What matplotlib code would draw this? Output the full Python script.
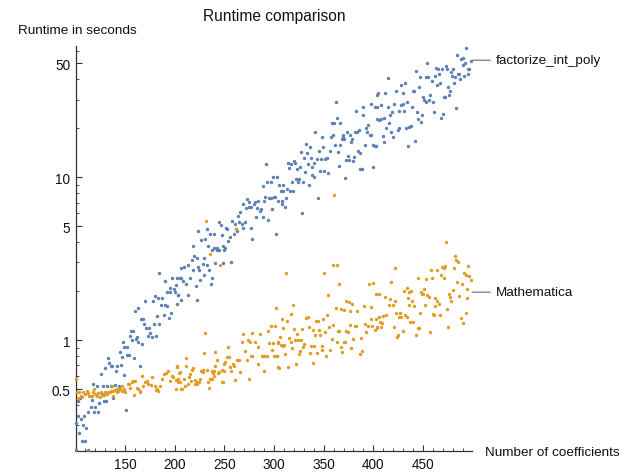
import matplotlib
matplotlib.use("Agg")
import matplotlib.pyplot as plt
from matplotlib.ticker import FixedLocator, NullFormatter, MultipleLocator

plt.rcParams['font.family'] = ['Liberation Sans', 'DejaVu Sans']

# ---------------- data ----------------
title = "Runtime comparison"
ylabel = "Runtime in seconds"
xlabel = "Number of coefficients"
series_names = ["factorize_int_poly", "Mathematica"]

fip_pts = [
    (101,0.31),(104,0.27),(107,0.24),(110,0.24),(108,0.30),(111,0.29),(103,0.34),(109,0.34),(113,0.36),(116,0.39),
    (119,0.36),(123,0.36),(103,0.42),(105,0.44),(117,0.43),(124,0.41),(129,0.42),(131,0.42),(138,0.44),(151,0.37),
    (118,0.54),(122,0.52),(128,0.52),(132,0.52),(136,0.52),(140,0.53),(144,0.52),(149,0.61),(126,0.62),(130,0.67),
    (133,0.78),(134,0.72),(136,0.69),(137,0.69),(142,0.69),(141,0.65),(146,0.70),(145,0.84),(147,0.79),(149,0.91),
    (152,0.91),(152,0.81),(154,0.81),(159,0.78),(148,0.97),(157,1.0),(155,1.06),(161,1.01),(163,0.97),(165,0.69),
    (167,0.95),(156,1.14),(158,1.14),(162,1.04),(160,1.5),(163,1.57),(166,1.35),(168,1.35),(170,1.73),(171,1.18),
    (174,1.18),(175,1.1),(173,1.06),(177,1.04),(181,1.06),(169,1.25),(179,1.25),(184,1.25),(182,1.4),(189,1.42),
    (194,1.36),(180,1.86),(183,1.81),(187,1.81),(178,1.73),(186,1.64),(190,1.64),(192,1.62),(196,1.46),(192,1.97),
    (195,1.97),(200,1.97),(184,2.6),(190,2.3),(197,2.4),(202,2.4),(206,2.4),(201,2.17),(199,2.06),(203,1.9),
    (195,2.1),(101,0.21),(113,0.21),(120,0.39),(127,0.47),(106,0.33),
    (202,1.66),(203,1.89),(206,1.76),(208,2.3),(211,2.2),(213,1.9),(205,2.4),(209,2.8),(206,2.76),
    (213,2.9),(215,2.4),(217,3.1),(219,3.3),(222,3.2),(218,3.77),(218,2.7),(224,2.8),(225,2.7),(221,2.14),
    (222,1.76),(226,2.33),(227,4.1),(231,4.16),(224,4.7),(229,2.95),(230,3.2),(230,2.5),(235,2.7),(233,4.8),
    (236,4.5),(240,4.5),(234,3.77),(233,2.9),(238,2.4),(237,2.2),(238,3.6),(240,3.67),(243,3.7),(243,3.57),
    (245,3.57),(241,2.97),(249,2.97),(245,5.3),(247,5.1),(252,4.9),(253,4.8),(248,4.4),(249,3.8),(251,3.7),
    (250,3.57),(254,4.05),(256,4.3),(257,3.0),(258,5.4),(261,5.2),(260,4.5),(263,4.7),(262,4.8),(265,5.3),
    (268,5.2),(271,5.3),(269,4.9),(264,5.8),(266,6.1),(269,6.9),(272,6.45),(275,6.6),(277,6.6),(273,7.4),
    (275,7.1),(277,4.9),(278,4.2),(280,6.9),(281,7.1),(284,7.2),(282,5.7),(283,6.45),(286,6.2),(287,6.35),
    (289,8.9),(290,7.2),(289,5.7),(291,7.6),(295,7.5),(297,7.5),(300,7.6),(293,9.4),(297,9.4),(299,10.0),
    (303,10.1),(294,5.5),(292,12.0),(298,6.4),(302,4.5),(304,7.2),
    (328,6.0),(344,7.5),(301,7.6),(308,6.9),(311,6.6),(308,7.2),(307,8.2),(309,8.2),(305,9.0),(309,9.0),
    (313,8.5),(316,8.2),(319,8.2),(312,7.5),(314,12.3),(317,12.0),(315,11.4),(320,12.6),(321,12.3),(323,11.2),
    (318,9.4),(322,9.7),(324,9.4),(325,9.8),(327,14.2),(332,15.9),(333,14.0),(336,15.3),(326,11.5),(329,9.4),
    (335,9.0),(330,13.1),(337,13.1),(340,12.3),(331,10.7),(334,12.0),(338,11.5),(340,10.0),(338,10.3),(341,19.1),
    (345,14.4),(346,10.9),(350,11.0),(348,17.8),(349,15.3),(343,12.9),(347,12.9),(351,12.9),(353,13.1),(354,10.6),
    (356,14.6),(357,17.6),(359,18.1),(358,21.5),(360,21.5),(362,29.0),(363,23.0),(366,21.5),(361,15.7),(364,14.2),
    (366,15.7),(365,11.8),(369,18.3),(368,17.1),(370,17.3),(369,17.8),(373,18.9),(371,9.9),(374,13.6),(372,12.7),
    (375,12.7),(377,18.1),(378,16.4),(379,17.3),(380,12.6),(381,13.3),(383,25.7),(382,19.1),(384,19.1),(386,19.4),
    (385,14.6),(387,14.0),(387,11.3),(389,11.3),(390,27.0),(390,24.0),(392,15.7),(393,20.0),(395,21.0),(394,19.0),
    (397,18.3),(398,18.3),(398,28.0),(402,27.0),(400,11.5),(400,15.7),(402,15.5),(404,32.0),(404,22.7),
    (493,62.6),(484,56.0),(488,53.0),(490,54.0),(498,52.0),(492,50.0),(490,49.0),(495,46.0),(496,46.0),(454,50.6),
    (463,47.0),(465,46.0),(469,46.0),(473,48.0),(474,46.0),(480,46.0),(466,43.0),(462,42.0),(467,38.0),(464,37.0),
    (459,39.0),(455,41.0),(453,41.0),(447,41.0),(443,45.0),(479,42.0),(478,44.0),(485,43.0),(486,43.0),(482,41.0),
    (487,40.0),(481,38.0),(491,42.0),(495,43.0),(475,36.0),(477,34.0),(476,32.0),(472,31.0),(471,31.0),(483,26.5),
    (432,38.0),(428,37.0),(423,34.0),(412,33.0),(405,33.0),(430,33.0),(440,34.0),(441,34.0),(446,36.0),(450,31.0),
    (451,30.0),(453,29.0),(456,30.0),(457,32.0),(460,29.0),(415,40.5),(404,27.0),(408,27.6),(415,27.0),(421,28.0),
    (428,27.6),(430,28.0),(434,29.0),(439,27.0),(431,25.7),(426,25.7),(419,25.0),(411,23.0),(417,24.0),(408,22.8),
    (406,22.5),(444,25.0),(449,24.0),(445,22.7),(448,22.0),(461,25.0),(470,24.6),(468,23.0),(416,21.5),(413,20.0),
    (418,19.0),(425,19.6),(426,20.0),(433,20.0),(436,20.3),(438,20.6),(410,18.0),(420,17.8),(411,16.4),(403,15.5),
    (435,15.5),(442,16.6),
]

mma_pts = [
    (102,0.48),(104,0.48),(106,0.455),(108,0.48),(110,0.47),(113,0.475),(114,0.455),(116,0.455),(118,0.48),(120,0.47),
    (122,0.455),(123,0.475),(126,0.48),(128,0.46),(130,0.48),(132,0.47),(133,0.48),(135,0.48),(138,0.49),(140,0.495),
    (142,0.5),(143,0.49),(145,0.5),(147,0.49),(149,0.5),(153,0.54),(154,0.54),(157,0.55),(158,0.56),(160,0.56),
    (162,0.51),(163,0.5),(165,0.49),(167,0.6),(168,0.52),(170,0.55),(172,0.56),(173,0.54),(176,0.53),(177,0.59),
    (180,0.52),(182,0.5),(183,0.49),(185,0.52),(187,0.58),(189,0.62),(191,0.63),(193,0.65),(195,0.56),(197,0.6),
    (198,0.59),(201,0.5),(202,0.68),(203,0.58),(205,0.64),(103,0.44),(107,0.445),(117,0.455),(125,0.445),(129,0.46),
    (136,0.49),(138,0.455),(142,0.48),(159,0.46),(165,0.48),(181,0.495),(101,0.58),(150,0.48),(155,0.51),(147,0.52),
    (137,0.52),(119,0.5),(112,0.485),
    (232,5.4),(262,4.8),(236,3.4),(246,2.9),(231,1.1),(211,0.78),(230,0.83),(241,0.84),(254,0.91),(269,1.09),
    (278,1.1),(274,1.0),(276,0.97),(281,0.97),(286,1.09),(294,1.14),(297,1.22),(301,1.22),(302,1.57),(298,0.87),
    (295,0.96),(299,0.96),(304,0.96),(284,0.91),(268,0.97),(271,0.86),(273,0.75),(277,0.8),(278,0.8),(288,0.8),
    (290,0.8),(293,0.8),(300,0.8),(303,0.8),(284,0.71),(290,0.65),(275,0.58),(266,0.64),(261,0.57),(265,0.75),
    (263,0.76),(259,0.71),(260,0.69),(256,0.68),(253,0.79),(255,0.79),(251,0.73),(250,0.71),(257,0.65),(249,0.55),
    (245,0.64),(244,0.63),(240,0.65),(248,0.66),(250,0.65),(243,0.76),(241,0.69),(240,0.6),(233,0.66),(236,0.58),
    (238,0.58),(234,0.55),(238,0.65),(239,0.63),(229,0.66),(227,0.65),(229,0.64),(226,0.58),(224,0.55),(222,0.55),
    (220,0.57),(218,0.67),(217,0.66),(215,0.62),(214,0.59),(216,0.56),(211,0.69),(209,0.58),(207,0.5),(205,0.55),
    (204,0.63),(203,0.55),(201,0.57),(202,0.69),(213,0.54),(220,0.54),(222,0.54),(225,0.55),(210,0.52),(206,0.5),
    (235,0.51),(248,0.55),(304,0.68),
    (360,7.8),(359,2.9),(363,2.9),(350,2.57),(312,2.6),(365,2.2),(354,1.89),(319,1.64),(400,2.24),(396,2.2),
    (403,1.92),(372,1.73),(375,1.71),(379,1.66),(362,1.57),(367,1.55),(370,1.53),(376,1.5),(384,1.5),(353,1.42),
    (398,1.6),(391,1.62),(308,1.35),(313,1.31),(317,1.44),(332,1.36),(334,1.38),(342,1.31),(344,1.31),(349,1.35),
    (309,1.18),(320,1.17),(323,1.09),(328,1.17),(335,1.2),(339,1.15),(341,1.07),(346,1.07),(345,1.15),(351,1.12),
    (355,1.2),(359,1.24),(364,1.13),(365,1.13),(372,1.13),(374,1.12),(377,1.24),(382,1.22),(383,1.22),(370,0.97),
    (380,1.01),(388,1.03),(393,1.12),(392,1.25),(395,1.22),(399,1.22),(404,1.18),(398,1.35),(402,1.16),
    (304,0.97),(307,0.93),(310,0.93),(315,1.03),(317,0.97),(321,1.0),(324,1.0),(327,1.0),(330,0.95),(337,0.92),
    (340,0.92),(348,0.92),(358,1.02),(363,0.97),(367,0.91),(371,0.97),(306,1.05),(309,0.92),(318,0.89),(326,0.86),
    (329,0.91),(336,0.83),(343,0.83),(348,0.87),(356,0.87),(368,0.84),(378,0.89),(387,0.82),(389,0.86),(303,0.8),
    (311,0.82),(325,0.82),(352,0.8),(305,0.67),(314,0.68),(322,0.71),(339,0.72),
    (473,4.0),(482,3.3),(483,3.1),(485,3.0),(495,2.84),(469,2.8),(471,2.76),(472,2.84),(464,2.7),(458,2.7),
    (481,2.76),(491,2.57),(493,2.5),(496,2.46),(498,2.33),(422,2.76),(445,2.4),(453,2.36),(459,2.4),(468,2.5),
    (471,2.4),(418,2.27),(484,2.27),(489,2.2),(494,2.05),(451,2.05),(434,2.08),(436,1.97),(438,2.0),(431,2.0),
    (448,1.97),(449,1.92),(450,1.92),(454,1.89),(456,1.83),(476,1.92),(480,2.03),(477,1.83),(478,1.73),(486,1.86),
    (406,1.92),(412,1.83),(417,1.78),(422,1.73),(435,1.81),(439,1.73),(441,1.62),(436,1.64),(452,1.64),
    (462,1.81),(464,1.73),(466,1.66),(462,1.62),(467,1.42),(474,1.55),(494,1.81),(493,1.47),
    (416,1.64),(420,1.64),(413,1.42),(410,1.4),(406,1.38),(403,1.35),(423,1.46),(427,1.47),(428,1.38),(432,1.42),
    (434,1.38),(426,1.38),(440,1.3),(437,1.29),(447,1.47),(460,1.44),(461,1.42),(488,1.36),(490,1.27),
    (407,1.29),(404,1.2),(409,1.27),(408,1.2),(421,1.2),(430,1.14),(425,1.07),(424,1.04),(445,1.18),(446,1.18),
    (457,1.12),(443,1.07),(475,1.2),
]

label_values = [52.3, 1.97]   # y level where each series label sits
x_ticks = [150, 200, 250, 300, 350, 400, 450]
y_ticks = [0.5, 1, 5, 10, 50]
y_ticklabels = ["0.5", "1", "5", "10", "50"]
y_minor = [0.3, 0.4, 0.6, 0.7, 0.8, 0.9, 2, 3, 4, 6, 7, 8, 9, 20, 30, 40, 60]

colors = ["#5E81B5", "#E19C24"]

# ---------------- figure ----------------
W, H = 642, 477
fig = plt.figure(figsize=(W / 100, H / 100), dpi=100)
left, right, bottom, top = 76, 472, 452, 47
ax = fig.add_axes([left / W, 1 - bottom / H, (right - left) / W, (bottom - top) / H])

for pts, c in zip([fip_pts, mma_pts], colors):
    xs = [p[0] for p in pts]
    ys = [p[1] for p in pts]
    ax.scatter(xs, ys, s=6, color=c, linewidths=0, zorder=3, clip_on=False)

ax.set_yscale("log")
ax.set_xlim(100.7, 499.3)
ax.set_ylim(0.2085, 64)

ax.xaxis.set_major_locator(FixedLocator(x_ticks))
ax.xaxis.set_minor_locator(MultipleLocator(10))
ax.yaxis.set_major_locator(FixedLocator(y_ticks))
ax.set_yticklabels(y_ticklabels)
ax.yaxis.set_minor_locator(FixedLocator(y_minor))
ax.yaxis.set_minor_formatter(NullFormatter())

axc = "#333333"
for s in ["top", "right"]:
    ax.spines[s].set_visible(False)
for s in ["left", "bottom"]:
    ax.spines[s].set_color(axc)
    ax.spines[s].set_linewidth(0.9)
ax.tick_params(which="major", direction="in", length=4, width=0.8, color=axc,
               labelsize=9.8, labelcolor="#111111", pad=4)
ax.tick_params(which="minor", direction="in", length=2.2, width=0.6, color=axc)
ax.patch.set_alpha(0)

fig.text(274 / W, 1 - 16 / H, title, ha="center", va="center", fontsize=11.2, color="#111111")
fig.text(18 / W, 1 - 31 / H, ylabel, ha="left", va="center", fontsize=9.7, color="#111111")
fig.text(485 / W, 1 - 453 / H, xlabel, ha="left", va="center", fontsize=9.7, color="#111111")

# series labels with leader lines
for name, yv in zip(series_names, label_values):
    ax.annotate(name, xy=(499.5, yv), xycoords="data",
                xytext=(17, 0), textcoords="offset points",
                ha="left", va="center", fontsize=9.7, color="#111111",
                annotation_clip=False,
                arrowprops=dict(arrowstyle="-", color="#888888", lw=1,
                                shrinkA=2, shrinkB=0))

fig.savefig("out.png", dpi=100)
